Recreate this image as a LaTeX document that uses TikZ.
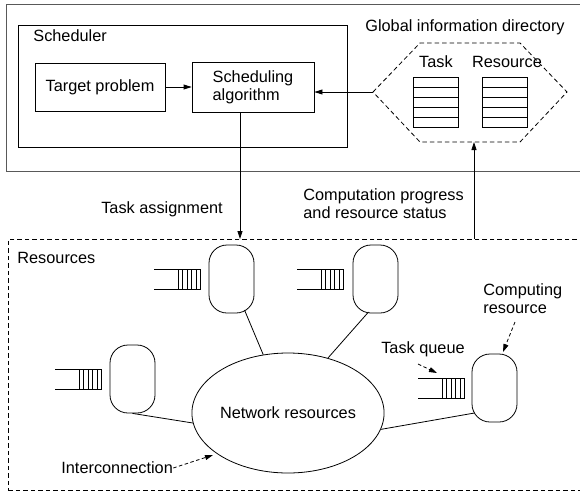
\documentclass[tikz,border=0pt]{standalone}
\usepackage{fontspec}
\setmainfont{Liberation Sans}
\usetikzlibrary{arrows.meta,shapes.geometric}
\begin{document}
\begin{tikzpicture}[x=1pt,y=-1pt,line width=0.8pt,
  every node/.style={font=\fontsize{16.3}{18}\selectfont,inner sep=0pt},
  plainbox/.style={draw,rectangle,anchor=north west},
  fwd/.style={-{Triangle[length=8pt,width=5pt]}},
  hint/.style={dash pattern=on 3.5pt off 2.5pt,-{Triangle[length=8pt,width=5pt]}},
  region/.style={draw,dash pattern=on 4.5pt off 3pt},
  cpu/.style={draw,rounded corners=18pt,minimum width=45pt,minimum height=68pt},
  jobqueue/.pic={
    \draw (0,0) -- (46,0) -- (46,20) -- (0,20);
    \foreach \qx in {24,28.5,33,37.5,42} \draw (\qx,0) -- (\qx,20);
  },
  dirtable/.pic={
    \draw (0,0) rectangle (45,50);
    \foreach \ty in {10,20,30,40} \draw (0,\ty) -- (45,\ty);
  }]
\useasboundingbox (0,0) rectangle (580,493);
\clip (0,0) rectangle (580,493);

% scheduler side (outer frame runs past the right edge)
\node[plainbox,draw=black!65,line width=1.1pt,minimum width=590,minimum height=167] (outer) at (6,4) {};
\node[plainbox,minimum width=329,minimum height=122] (schedbox) at (18,25) {};
\node[anchor=west] (schedlbl) at (33,36) {Scheduler};
\node[draw,minimum width=130,minimum height=48] (tp) at (100,87) {Target problem};
\node[draw,minimum width=122,minimum height=50,align=left] (sched) at (253,87) {Scheduling\\algorithm};
\draw[fwd] (tp.east) -- (sched.west);

% global information directory
\node (gidlbl) at (465,27) {Global information directory};
\coordinate (hexL) at (373,92);
\coordinate (hexB) at (474,142);
\draw[region] (hexL) -- (420,43) -- (520,43) -- (567,92) -- (520,142) -- (420,142) -- cycle;
\node (tasklbl) at (436,62) {Task};
\node (reslbl) at (507,62) {Resource};
\pic at (413,77) {dirtable};
\pic at (482,77) {dirtable};
\draw[fwd] (hexL) -- (hexL -| sched.east);

% resources side (dashed frame runs past the right edge)
\node[plainbox,region,minimum width=590,minimum height=251] (res) at (8,239) {};
\node[anchor=west] (reslabel) at (17,258) {Resources};

\draw[fwd] ([xshift=-13pt]sched.south) -- ([xshift=-13pt]sched.south |- res.north);
\draw[fwd] (hexB |- res.north) -- (hexB);
\node (assign) at (162,209) {Task assignment};
\node[anchor=west,align=left] (progress) at (303,204) {Computation progress\\and resource status};

\node[draw,ellipse,minimum width=168,minimum height=120] (net) at (288,413) {Network resources};
\node[cpu] (c1) at (231.5,279) {};
\node[cpu] (c2) at (375.5,279) {};
\node[cpu] (c3) at (132.5,379) {};
\node[cpu] (c4) at (494.5,388) {};
\pic at (154,269) {jobqueue};
\pic at (297,269) {jobqueue};
\pic at (55,369) {jobqueue};
\pic at (418,378) {jobqueue};

\draw ([shift={(13,31)}]c1.center) -- (net.113);
\draw ([shift={(-7,33)}]c2.center) -- (net.54);
\draw (c3.south) -- (net.186);
\draw ([shift={(-20,25)}]c4.center) -- (net.-10);

% annotations
\node[anchor=west] (inter) at (61,468) {Interconnection};
\coordinate (interTip) at (213,455);
\draw[hint] (inter.east) -- (interTip);
\node (tqlbl) at (423,349) {Task queue};
\coordinate (tqFrom) at (418,364);
\coordinate (tqTip) at (437,373);
\draw[hint] (tqFrom) -- (tqTip);
\node[anchor=west,align=left] (crlbl) at (483,299) {Computing\\resource};
\coordinate (crFrom) at (515,322);
\coordinate (crTip) at (503,352);
\draw[hint] (crFrom) -- (crTip);
\end{tikzpicture}
\end{document}
